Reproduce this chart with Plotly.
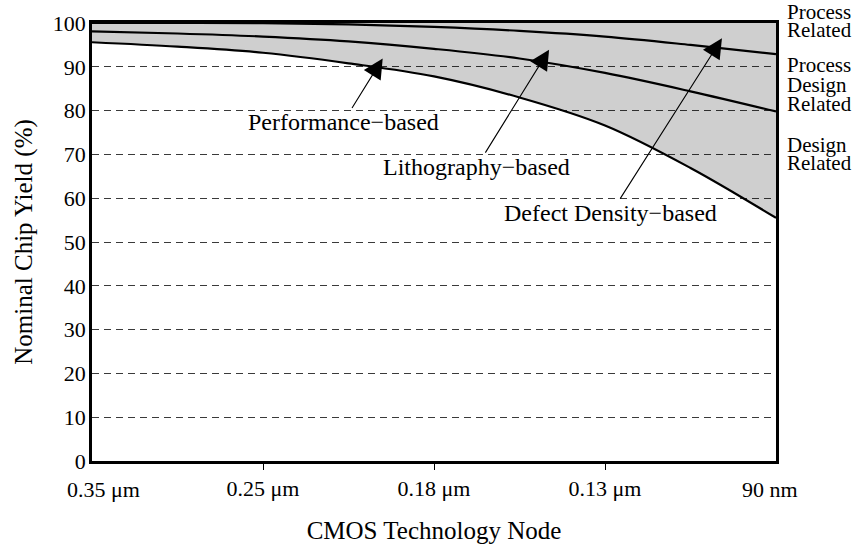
import numpy as np
import plotly.graph_objects as go

# Technology nodes along the x axis (one unit per node)
node_labels = ["0.35 μm", "0.25 μm", "0.18 μm", "0.13 μm", "90 nm"]
node_index = [0, 1, 2, 3, 4]

# Curves sampled every half node
sample_pos = [0, 0.5, 1, 1.5, 2, 2.5, 3, 3.5, 4]
process_related = [100, 100, 99.95, 99.7, 99.1, 98.2, 96.9, 95.0, 92.9]
lithography_based = [98.1, 97.6, 96.9, 95.8, 94.1, 91.9, 88.6, 84.4, 79.8]
defect_density_based = [95.6, 94.6, 93.2, 90.8, 87.8, 83.0, 76.6, 66.9, 55.5]

yield_ceiling = 100
y_ticks = list(range(0, 101, 10))

FONT = "Liberation Serif"
LINE = dict(color="black", width=2.2, shape="spline", smoothing=1.0)

fig = go.Figure()

# Shaded yield-loss band between 100 % and the lowest curve
fig.add_trace(go.Scatter(x=sample_pos, y=[yield_ceiling] * len(sample_pos),
                         mode="lines", line=dict(width=0), hoverinfo="skip",
                         showlegend=False))
fig.add_trace(go.Scatter(x=sample_pos, y=defect_density_based, mode="lines",
                         line=LINE, fill="tonexty",
                         fillcolor="rgba(0,0,0,0.19)", showlegend=False))
fig.add_trace(go.Scatter(x=sample_pos, y=lithography_based, mode="lines",
                         line=LINE, showlegend=False))
fig.add_trace(go.Scatter(x=sample_pos, y=process_related, mode="lines",
                         line=LINE, showlegend=False))

annotations = []

# Arrowed curve labels: (text, text position, arrow tip)
arrow_labels = [
    ("Performance\u2212based", (1.468, 77.3), (1.70, 91.9)),
    ("Lithography\u2212based", (2.248, 67.1), (2.673, 93.9)),
    ("Defect Density\u2212based", (3.035, 56.6), (3.684, 96.5)),
]
for text, (tx, ty), (hx, hy) in arrow_labels:
    annotations.append(dict(
        text=text, x=hx, y=hy, ax=tx, ay=ty, xref="x", yref="y",
        axref="x", ayref="y", showarrow=True, arrowhead=2, arrowsize=3.6,
        arrowwidth=1.1, arrowcolor="black",
        font=dict(family=FONT, size=24, color="black")))

# Region labels to the right of the frame, one annotation per line
# (vertical positions as fractions of the plot height)
side_lines = [
    ("Process", 1.006), ("Related", 0.966),
    ("Process", 0.885), ("Design", 0.841), ("Related", 0.796),
    ("Design", 0.704), ("Related", 0.663),
]
for text, yv in side_lines:
    annotations.append(dict(
        text=text, x=1, y=yv, xref="paper", yref="paper", xanchor="left",
        yanchor="middle", xshift=9, yshift=8, showarrow=False,
        font=dict(family=FONT, size=21, color="black")))

# Outer node labels sit slightly inside the frame corners
for idx, shift in ((0, 11), (len(node_labels) - 1, -6)):
    annotations.append(dict(
        text=node_labels[idx], x=node_index[idx], y=0, xref="x", yref="paper",
        xanchor="center", yanchor="top", xshift=shift, yshift=-14,
        showarrow=False, font=dict(family=FONT, size=22, color="black")))

fig.update_layout(
    width=868, height=552,
    margin=dict(l=92, r=92, t=11, b=87),
    paper_bgcolor="white", plot_bgcolor="white",
    font=dict(family=FONT, size=22, color="black"),
    annotations=annotations,
    showlegend=False,
)

fig.update_xaxes(
    range=[0, 4], tickmode="array", tickvals=node_index[1:-1],
    ticktext=node_labels[1:-1], ticks="outside", ticklen=6, tickwidth=1.2,
    tickcolor="black", showgrid=False, zeroline=False,
    showline=True, linecolor="black", linewidth=2.6, mirror=True,
    title=dict(text="CMOS Technology Node", standoff=22,
               font=dict(family=FONT, size=25)),
    fixedrange=True,
)
fig.update_yaxes(
    range=[0, 100], tickmode="array", tickvals=y_ticks, ticks="",
    ticklabelstandoff=-1, showgrid=True, gridcolor="#3a3a3a", gridwidth=1,
    griddash="7px,5px", zeroline=False,
    showline=True, linecolor="black", linewidth=2.6, mirror=True,
    title=dict(text="Nominal Chip Yield (%)", standoff=14,
               font=dict(family=FONT, size=25)),
    fixedrange=True,
)

fig.write_html("out.html")
